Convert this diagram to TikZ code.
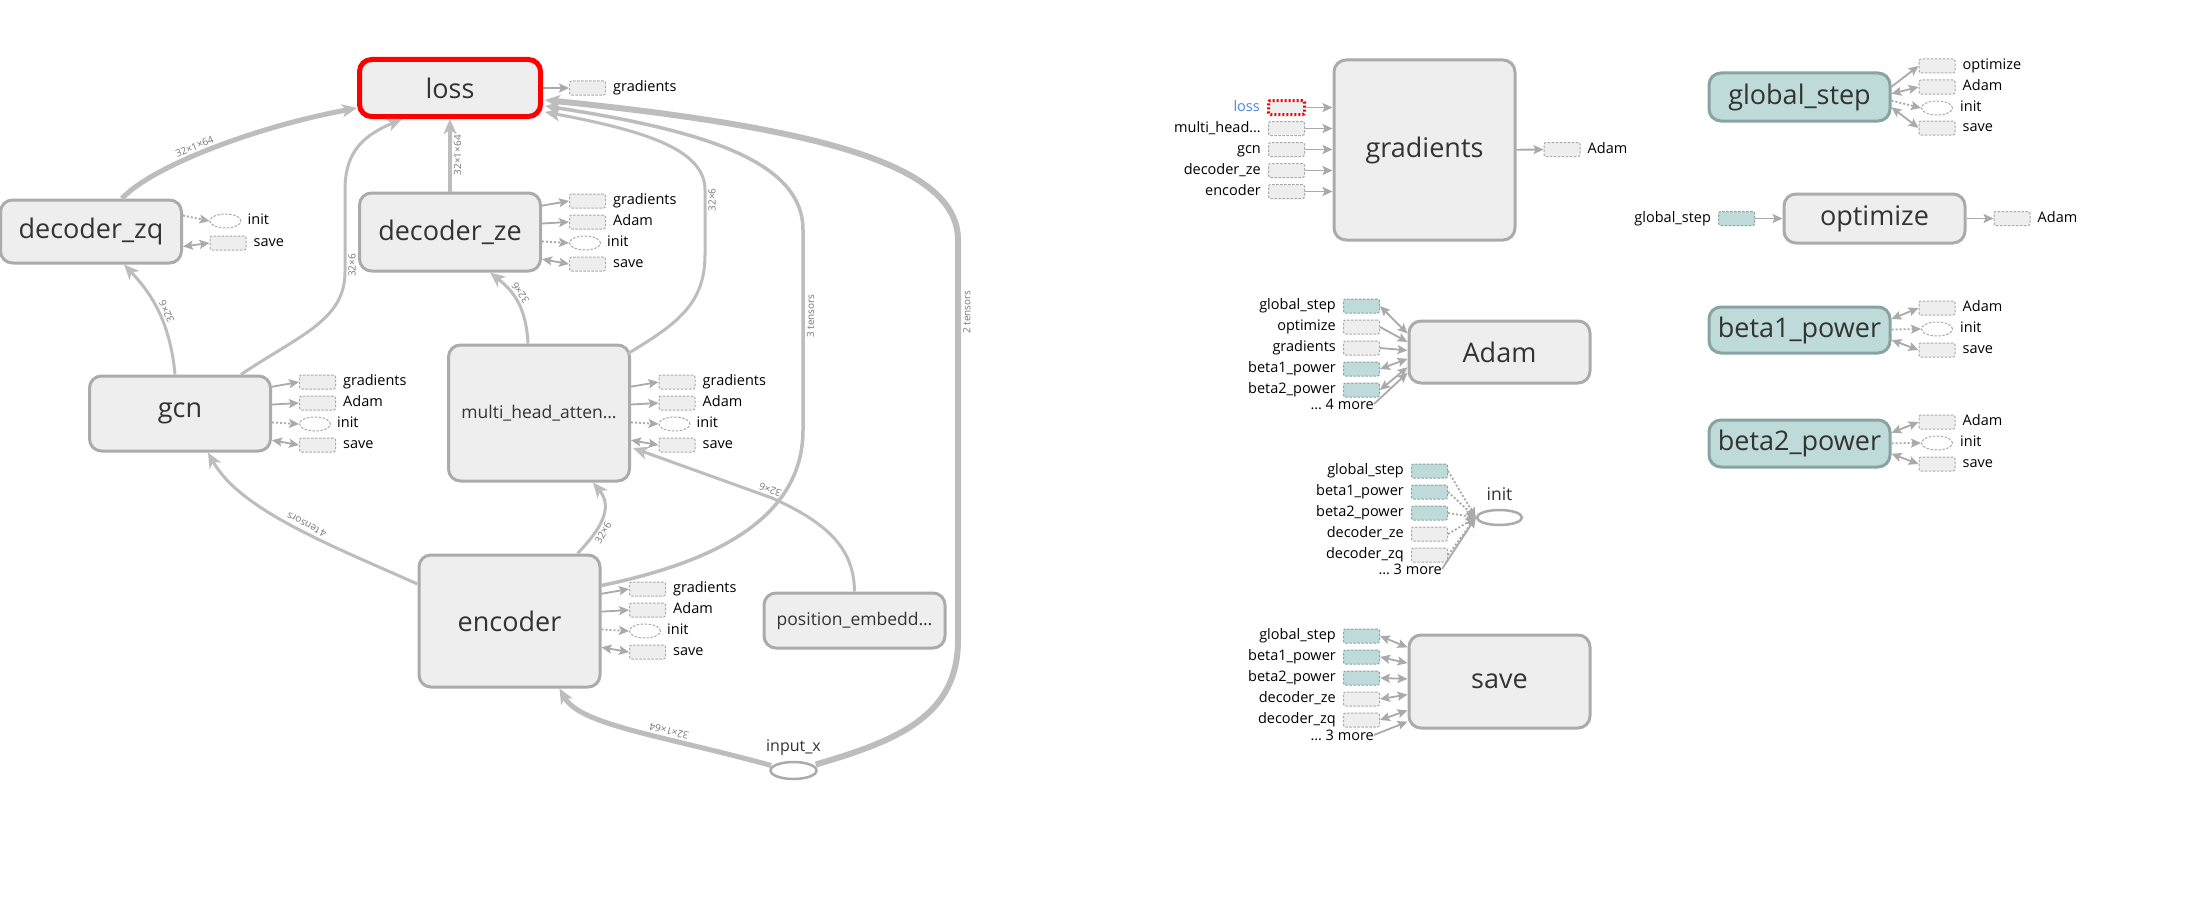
\documentclass[tikz,border=0pt]{standalone}
\usepackage{fontspec}
\setmainfont{Open Sans}
\usetikzlibrary{arrows.meta,calc,shapes.geometric}

\definecolor{opfill}{HTML}{EEEEEE}
\definecolor{opline}{HTML}{ABABAB}
\definecolor{varfill}{HTML}{BEDAD9}
\definecolor{varline}{HTML}{88A3A2}
\definecolor{edgecol}{HTML}{BDBDBD}
\definecolor{portedge}{HTML}{AAAAAA}
\definecolor{txt}{HTML}{333333}
\definecolor{elab}{HTML}{777777}
\definecolor{hilite}{HTML}{4A86E8}

\newcommand{\bigfont}{\fontsize{27}{30}\selectfont}
\newcommand{\midfont}{\fontsize{17.5}{20}\selectfont}
\newcommand{\smallfont}{\fontsize{14.5}{16}\selectfont}

\tikzset{
  opnode/.style={draw=opline, fill=opfill, line width=3pt, rounded corners=12pt,
    minimum width=181pt, inner sep=0pt, text=txt, font=\bigfont},
  varnode/.style={opnode, draw=varline, fill=varfill},
  port/.style={draw=portedge, fill=opfill, line width=1pt, dash pattern=on 2.5pt off 1.5pt,
    rounded corners=2pt, minimum width=36pt, minimum height=14pt, inner sep=0pt},
  varport/.style={port, draw=varline, fill=varfill},
  portell/.style={port, ellipse, fill=white, minimum width=31pt},
  plabel/.style={anchor=west, xshift=7pt, inner sep=0pt, font=\smallfont,
    text height=10pt, text depth=3pt},
  inlabel/.style={anchor=east, xshift=-7pt, inner sep=0pt, font=\smallfont,
    text height=10pt, text depth=3pt},
  morelabel/.style={anchor=east, inner sep=0pt, font=\smallfont},
  pedge/.style={draw=portedge, line width=1.8pt, -{Stealth[length=10pt,width=9pt,inset=2pt]}},
  bipedge/.style={pedge, {Stealth[length=10pt,width=9pt,inset=2pt]}-{Stealth[length=10pt,width=9pt,inset=2pt]}},
  dotedge/.style={pedge, dash pattern=on 2pt off 2pt},
  flow/.style={draw=edgecol, line width=3pt, -{Stealth[length=15pt,width=13pt,inset=4pt]}},
  elabel/.style={sloped, allow upside down, inner sep=2pt, text=elab, font=\fontsize{10}{11}\selectfont},
}

% gradients / Adam / init / save outputs of an op
\newcommand{\stdports}[3]{%
  \node[port] (#1-grad) at (#2,#3) {};
  \node[plabel] at (#1-grad.east) {gradients};
  \node[port] (#1-adam) at (#2,#3+21) {};
  \node[plabel] at (#1-adam.east) {Adam};
  \node[portell] (#1-init) at (#2-2.5,#3+42) {};
  \node[plabel, xshift=-1pt] at (#1-init.east) {init};
  \node[port] (#1-save) at (#2,#3+63) {};
  \node[plabel] at (#1-save.east) {save};
  \draw[pedge] ($(#1.east)!.85!(#1.east |- #1-grad)$) -- (#1-grad.west);
  \draw[pedge] ($(#1.east)!.85!(#1.east |- #1-adam)$) -- (#1-adam.west);
  \draw[dotedge] ($(#1.east)!.85!(#1.east |- #1-init)$) -- (#1-init.west);
  \draw[bipedge] ($(#1.east)!.85!(#1.east |- #1-save)$) -- (#1-save.west);
}

\begin{document}
\begin{tikzpicture}[x=1pt, y=-1pt]
  \fill[white] (0,0) rectangle (2196,899);
  \useasboundingbox (0,0) rectangle (2196,899);

  % main graph
  \node[opnode, draw=red, line width=5pt, minimum height=57pt] (loss) at (450,88) {loss};
  \node[opnode, minimum height=63pt] (zq) at (91,231.5) {decoder\_zq};
  \node[opnode, minimum height=78pt] (ze) at (450,232) {decoder\_ze};
  \node[opnode, minimum height=75pt] (gcn) at (180,413.5) {gcn};
  \node[opnode, minimum height=136pt, font=\midfont] (mha) at (539,413) {multi\_head\_atten…};
  \node[opnode, minimum height=132pt] (enc) at (509.5,621) {encoder};
  \node[opnode, minimum height=55pt, font=\midfont] (pos) at (854.5,620.5) {position\_embedd…};
  \node[ellipse, draw=opline, line width=2.5pt, fill=white, minimum width=46pt, minimum height=17pt,
    inner sep=0pt, label={[font=\fontsize{16}{18}\selectfont, text=txt, label distance=2pt]above:input\_x}] (inx) at (793.5,770.5) {};

  \draw[flow, line width=5pt] ($(zq.north)+(31,0)$) .. controls (150,168) and (250,128) .. ($(loss.west)+(0,20)$)
    node[elabel, above, pos=0.45] {32×1×64};
  \draw[flow] ($(gcn.north)+(61,0)$) .. controls (300,335) and (345,320) .. (345,272) -- (345,190)
    node[elabel, below, pos=0.08] {32×6} .. controls (345,150) and (365,135) .. ($(loss.south)+(-48,0)$);
  \draw[flow, line width=4pt] (ze) -- (loss) node[elabel, below, pos=0.5] {32×1×64};
  \draw[flow] ($(mha.north east)+(-3,10)$) .. controls (675,325) and (705,305) .. (705,255) -- (705,190)
    node[elabel, below, pos=0.85] {32×6} .. controls (705,148) and (640,130) .. ($(loss.east)+(2,24)$);
  \draw[flow, line width=3.5pt] ($(enc.north east)+(0,32)$) .. controls (700,565) and (803,525) .. (803,430) -- (803,230)
    node[elabel, below, pos=0.57] {3 tensors} .. controls (803,160) and (700,130) .. ($(loss.east)+(2,18)$);
  \draw[flow, line width=6pt] ($(inx.east)+(-2,-6)$) .. controls (900,740) and (958,715) .. (958,640) -- (958,240)
    node[elabel, below, pos=0.82] {2 tensors} .. controls (958,165) and (820,128) .. ($(loss.east)+(2,12)$);

  \draw[flow] ($(gcn.north)+(-5,0)$) .. controls (170,320) and (150,292) .. ($(zq.south)+(33,0)$)
    node[elabel, below, pos=0.45] {32×6};
  \draw[flow] ($(mha.north)+(-11,0)$) .. controls (526,305) and (512,290) .. ($(ze.south)+(40,0)$)
    node[elabel, below, pos=0.55] {32×6};
  \draw[flow] ($(enc.north)+(68,0)$) .. controls (600,530) and (614,508) .. ($(mha.south)+(54,0)$)
    node[elabel, below, pos=0.35] {32×6};
  \draw[flow] ($(enc.west)+(0,-37)$) .. controls (330,545) and (240,510) .. ($(gcn.south)+(28,0)$)
    node[elabel, below, pos=0.45] {4 tensors};
  \draw[flow] (pos.north) .. controls (854,550) and (830,524) .. (772,498) -- ($(mha.east)+(2,35)$)
    node[elabel, below, pos=0.03] {32×6};
  \draw[flow, line width=5pt] ($(inx.west)+(2,-5)$) .. controls (660,735) and (580,725) .. ($(enc.south)+(50,0)$)
    node[elabel, below, pos=0.35] {32×1×64};

  % output ports
  \node[port] (loss-grad) at (587.5,88) {};
  \node[plabel] at (loss-grad.east) {gradients};
  \draw[pedge] (loss) -- (loss-grad);
  \node[portell] (zq-init) at (225.5,221) {};
  \node[plabel, xshift=-1pt] at (zq-init.east) {init};
  \node[port] (zq-save) at (228,243) {};
  \node[plabel] at (zq-save.east) {save};
  \draw[dotedge] ($(zq.east)+(0,-16)$) -- (zq-init.west);
  \draw[bipedge] ($(zq.east)+(0,15)$) -- (zq-save.west);
  \stdports{ze}{587.5}{201}
  \stdports{gcn}{317.5}{382}
  \stdports{mha}{677}{382}
  \stdports{enc}{647.5}{589}

  % gradients
  \node[opnode, minimum height=180pt] (grad) at (1424.5,150) {gradients};
  \node[port, draw=red, line width=3pt, dash pattern=on 2pt off 2pt] (grad-in1) at (1286.5,107.5) {};
  \node[inlabel, text=hilite] at (grad-in1.west) {loss};
  \foreach \lbl [count=\i from 2] in {multi\_head…, gcn, decoder\_ze, encoder} {
    \node[port] (grad-in\i) at (1286.5,86.5+21*\i) {};
    \node[inlabel] at (grad-in\i.west) {\lbl};
  }
  \foreach \i in {1,...,5}
    \draw[pedge] (grad-in\i.east) -- (grad.west |- grad-in\i);
  \node[port] (grad-out) at (1562,149.5) {};
  \node[plabel] at (grad-out.east) {Adam};
  \draw[pedge] (grad) -- (grad-out);

  % Adam
  \node[opnode, minimum height=62pt] (adam) at (1499.5,352) {Adam};
  \foreach \lbl/\sty/\est [count=\i] in {global\_step/varport/bipedge, optimize/port/pedge,
      gradients/port/pedge, beta1\_power/varport/bipedge, beta2\_power/varport/bipedge} {
    \node[\sty] (adam-in\i) at (1361.5,285+21*\i) {};
    \node[inlabel] at (adam-in\i.west) {\lbl};
    \draw[\est] (adam-in\i.east) -- ($(adam.west)!.4!(adam.west |- adam-in\i)$);
  }
  \node[morelabel] (adam-more) at (1374,404) {… 4 more};
  \draw[pedge] (adam-more.east) -- ($(adam.west)!.4!(adam.west |- adam-more)$);

  % init
  \node[ellipse, draw=opline, line width=2.5pt, fill=white, minimum width=45pt, minimum height=15pt,
    inner sep=0pt, label={[font=\midfont, text=txt, label distance=5pt]above:init}] (init) at (1499.5,517.5) {};
  \foreach \lbl/\sty [count=\i] in {global\_step/varport, beta1\_power/varport, beta2\_power/varport,
      decoder\_ze/port, decoder\_zq/port} {
    \node[\sty] (init-in\i) at (1429.5,450+21*\i) {};
    \node[inlabel] at (init-in\i.west) {\lbl};
    \draw[dotedge] (init-in\i.east) -- (init.west);
  }
  \node[morelabel] (init-more) at (1442,569) {… 3 more};
  \draw[pedge] (init-more.east) -- (init.west);

  % save
  \node[opnode, minimum height=93pt] (save) at (1499.5,681.5) {save};
  \foreach \lbl/\sty [count=\i] in {global\_step/varport, beta1\_power/varport, beta2\_power/varport,
      decoder\_ze/port, decoder\_zq/port} {
    \node[\sty] (save-in\i) at (1361.5,615+21*\i) {};
    \node[inlabel] at (save-in\i.west) {\lbl};
    \draw[bipedge] (save-in\i.east) -- ($(save.west)!.75!(save.west |- save-in\i)$);
  }
  \node[morelabel] (save-more) at (1374,735) {… 3 more};
  \draw[pedge] (save-more.east) -- ($(save.west)!.75!(save.west |- save-more)$);

  % variables
  \node[varnode, minimum height=48pt] (gstep) at (1799.5,97) {global\_step};
  \foreach \id/\yy/\sty/\est/\lbl in {opt/66/port/pedge/optimize, adam/87/port/bipedge/Adam,
      init/108/portell/dotedge/init, save/128/port/bipedge/save} {
    \node[\sty] (gstep-\id) at (1937,\yy) {};
    \node[plabel] at (gstep-\id.east) {\lbl};
    \draw[\est] ($(gstep.east)!.33!(gstep.east |- gstep-\id)$) -- (gstep-\id.west);
  }
  \node[varnode, minimum height=46pt] (beta1) at (1799.5,330) {beta1\_power};
  \node[varnode, minimum height=47pt] (beta2) at (1799.5,443.5) {beta2\_power};
  \foreach \op/\yy in {beta1/308, beta2/422} {
    \foreach \id/\dy/\sty/\est/\lbl in {adam/0/port/bipedge/Adam, init/21/portell/dotedge/init,
        save/42/port/bipedge/save} {
      \node[\sty] (\op-\id) at (1937,\yy+\dy) {};
      \node[plabel] at (\op-\id.east) {\lbl};
      \draw[\est] ($(\op.east)!.5!(\op.east |- \op-\id)$) -- (\op-\id.west);
    }
  }

  % optimize
  \node[opnode, minimum height=49pt] (opt) at (1874.5,218.5) {optimize};
  \node[varport] (opt-in) at (1736.7,218.5) {};
  \node[inlabel] at (opt-in.west) {global\_step};
  \draw[pedge] (opt-in) -- (opt);
  \node[port] (opt-out) at (2012,218.5) {};
  \node[plabel] at (opt-out.east) {Adam};
  \draw[pedge] (opt) -- (opt-out);
\end{tikzpicture}
\end{document}
